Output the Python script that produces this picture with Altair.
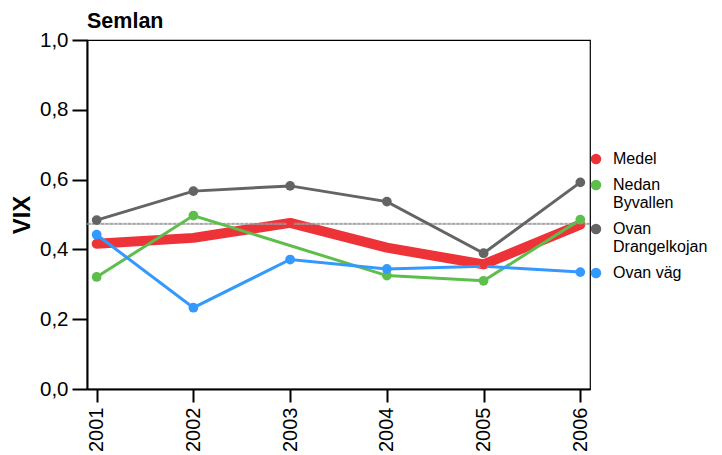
import altair as alt
import pandas as pd

years = [2001, 2002, 2003, 2004, 2005, 2006]
series_names = ["Medel", "Nedan Byvallen", "Ovan Drangelkojan", "Ovan väg"]
colors = ["#EE3338", "#5DBE4C", "#646464", "#3399FF"]

medel = [0.416, 0.433, 0.476, 0.405, 0.357, 0.471]
nedan_byvallen = [0.321, 0.497, None, 0.325, 0.310, 0.485]
ovan_drangelkojan = [0.484, 0.567, 0.582, 0.537, 0.389, 0.592]
ovan_vag = [0.442, 0.233, 0.371, 0.344, 0.352, 0.335]
ovan_vag_marker = [True, True, True, True, False, True]
reference_value = 0.473

y_ticks = [0.0, 0.2, 0.4, 0.6, 0.8, 1.0]

rows = []
for name, vals, marks in [
    ("Medel", medel, [True] * 6),
    ("Nedan Byvallen", nedan_byvallen, [True] * 6),
    ("Ovan Drangelkojan", ovan_drangelkojan, [True] * 6),
    ("Ovan väg", ovan_vag, ovan_vag_marker),
]:
    for yr, v, m in zip(years, vals, marks):
        if v is not None:
            rows.append({"serie": name, "year": str(yr), "value": v, "marker": m})
data = pd.DataFrame(rows)
ref_df = pd.DataFrame({"ref": [reference_value]})

FONT = "Liberation Sans"

legend = alt.Legend(
    title=None,
    orient="none",
    legendX=501,
    legendY=111,
    symbolType="circle",
    symbolSize=110,
    symbolStrokeWidth=0,
    labelFontSize=16,
    labelFont=FONT,
    labelColor="black",
    labelOffset=9,
    rowPadding=10,
    labelLimit=200,
    labelExpr="datum.label == 'Ovan väg' ? datum.label : split(datum.label, ' ')",
)

scale = alt.Scale(domain=series_names, range=colors)
color_nolegend = alt.Color("serie:N", scale=scale, legend=None)
color_legend = alt.Color("serie:N", scale=scale, legend=legend)

x_enc = alt.X(
    "year:O",
    scale=alt.Scale(padding=0.1),
    axis=alt.Axis(
        title=None, labelAngle=-90, labelFontSize=20, labelFont=FONT, labelColor="black",
        tickSize=13, tickWidth=2, tickColor="black", domainColor="black", domainWidth=2,
        labelPadding=5,
    ),
)
y_enc = alt.Y(
    "value:Q",
    scale=alt.Scale(domain=[0, 1], nice=False, zero=True),
    axis=alt.Axis(
        title="VIX", titleFontSize=24, titleFont=FONT, titleFontWeight="bold", titleColor="black",
        titlePadding=5, values=y_ticks,
        labelExpr="replace(format(datum.value, '.1f'), '.', ',')",
        labelFontSize=20.5, labelFont=FONT, labelColor="black", labelPadding=4,
        tickSize=15, tickWidth=2, tickColor="black", domainColor="black", domainWidth=2,
        grid=False,
    ),
)

base = alt.Chart(data)
mean_line = base.transform_filter("datum.serie == 'Medel'").mark_line(
    strokeWidth=10, strokeCap="round", strokeJoin="round"
).encode(x=x_enc, y=y_enc, color=color_nolegend)
ref_rule_under = alt.Chart(ref_df).mark_rule(color="#b0b0b0", strokeWidth=2.4, opacity=0.6).encode(
    y=alt.Y("ref:Q")
)
ref_rule = alt.Chart(ref_df).mark_rule(color="#777777", strokeWidth=1, strokeDash=[3, 1.5], opacity=0.8).encode(
    y=alt.Y("ref:Q")
)
site_lines = base.transform_filter("datum.serie != 'Medel'").mark_line(strokeWidth=3).encode(
    x=x_enc, y=y_enc, color=color_nolegend, detail="serie:N"
)
site_points = base.transform_filter("datum.marker").mark_circle(opacity=1).encode(
    x=x_enc, y=y_enc, color=color_legend,
    size=alt.condition("datum.serie == 'Medel'", alt.value(60), alt.value(95)),
)

chart = alt.layer(mean_line, ref_rule_under, ref_rule, site_lines, site_points).resolve_scale(
    color="independent"
).properties(
    width=503,
    height=349,
    title=alt.TitleParams("Semlan", anchor="start", frame="group", fontSize=21.5, font=FONT,
                          fontWeight="bold", color="black", offset=-2),
    autosize=alt.AutoSizeParams(type="none"),
    padding={"left": 79, "top": 32, "right": 124, "bottom": 62},
).configure_view(stroke="black", strokeWidth=1.2)

chart.save("out.html", embed_options={"renderer": "svg", "actions": False})
